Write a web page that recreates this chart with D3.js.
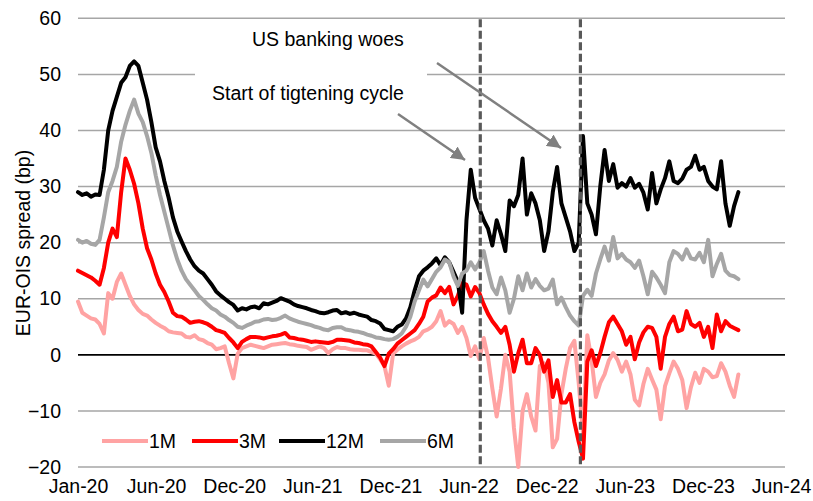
<!DOCTYPE html>
<html>
<head>
<meta charset="utf-8">
<script src="https://cdn.jsdelivr.net/npm/d3@7"></script>
<style>
  html, body { margin: 0; padding: 0; background: #fff; }
  svg { display: block; font-family: "Liberation Sans", Arial, sans-serif; }
</style>
</head>
<body>
<svg id="chart" width="813" height="501"></svg>
<script>
// ---- Data (one observation every 10 days starting 1 Jan 2020) ----
const startDate = "2020-01-01";
const stepDays = 10;

const s1M = [9.5,7.5,7,6.5,6.3,5.5,3.8,11,10,13,14.5,12.5,10.5,9,8,7.3,7,6.3,5.7,5.2,
4.8,4.2,4,3.9,3.8,3.2,3.1,3.5,2.8,2.6,2.1,1.8,1,1.2,1.5,-1.5,-4.2,0.2,1.2,1.5,
1.8,1.6,1.4,1.2,1.5,1.8,1.9,2,2.1,1.9,1.8,1.6,1.5,1.4,0.9,1.2,1.5,1.2,0.3,1,
1.4,1.2,1.2,1,0.9,0.9,0.8,0.8,0.5,0.2,-0.8,-2,-5.5,0.2,0.9,1.5,2,2.4,2.7,3.2,
4.2,4.5,5,6,7.8,5.2,6,5.5,3.9,5,3,-0.2,1.5,-0.8,3,-0.5,-6,-11,-6,0,
-3,-13,-20,-10,-7,-11,-13.5,-2,-1.5,-5,-16.5,-15,-7,-2.5,1.2,2.5,-5,-14,3.5,-1,
-7.5,-5,-3.5,-1,0.3,-0.9,-3,-1.2,-3.5,-8,-9,-5.2,-2.5,-4.4,-6.2,-11.5,-5.6,-3.3,-1.2,-2.5,
-4.5,-9.5,-5.8,-3.2,-5,-2.5,-3,-4,-3.8,-1.5,-3,-5.5,-7.5,-3.5];

const s3M = [15,14.6,14.2,13.8,13.2,12.5,15.5,20,22.5,21,29,35,33,30.5,27,22.5,19,17,14.5,12.5,
11.2,9.5,7.5,6.9,6.8,6.3,5.7,5.9,6,5.8,5.5,5,4.4,4.2,3.9,3,2.2,1.2,2.3,2.8,
3.2,3.2,3.1,2.9,3.1,3.3,3.4,3.6,3.9,3.1,3,2.8,2.7,2.5,2.3,2.4,2.3,2.2,2.1,2.3,
2.7,2.7,2.6,2.5,2.2,2.1,1.9,1.8,1.5,0.5,-0.5,-2,0.2,1,2,2.6,3.2,3.8,4.4,5.5,
6.8,9.5,10.2,10.6,12,11,12.1,9,10.5,12.8,12.5,10.4,12.1,11,9,7.3,6,5,3.9,5,
1.8,-3,0.3,2.7,-1.5,-1.5,1.2,0,-3,-1,-7.5,-4.5,-8.5,-8.5,-7,-12,-15.5,-18.5,-1.2,0.8,
-2,0.3,3.2,5.8,6.8,5.5,4.2,1.8,3.2,-0.8,2.2,4,5,4.8,3.2,-2.5,3.2,5.5,6.8,4.2,
4.5,7.8,5.5,5,5.7,3.2,5,1.2,7.2,4.2,6,5.2,4.8,4.4];

const s12M = [29,28.5,28.8,28.2,28.6,28.5,33,40,43.5,46,48.5,49.5,51.5,52.3,51.5,48.5,45.5,41.5,37,34.5,
31,28,24.5,22,20.2,18.5,17,15.8,15,14.5,13.5,12.5,11.3,10.6,10,9.4,8.9,7.9,8.3,8.1,
8.5,8.6,8.3,9.2,9,9.3,9.6,10.1,9.8,9.5,9,8.7,8.5,8.3,8,7.8,7.5,7.4,7.6,7.9,
8,7.4,7.6,7.3,7.5,7.2,7,6.8,6.2,6,5.6,4.6,4.4,4.2,5,5.4,6.5,8.5,11.5,14,
15,15.6,16.3,17.2,16,17.4,16.5,14.8,13,7.5,24,33,28,26,24,22.5,19.5,24,21.5,18.5,
27.5,26.5,28.5,35,25,28.8,27,24,18.5,22,29,33.5,27,24.5,22,18.5,20,39,27,25,
21.5,30,36.5,31,34,29.8,30.6,30,31.5,29.8,30.5,28.9,25.9,32.4,27,29.5,31.5,34.5,31,30.6,
31.4,33,33.5,35.5,33,33.5,31,30,29.5,34.5,27,23,26.5,29];

const s6M = [20.5,20,20.3,19.8,19.6,20.5,24.5,29,31,33.5,38,41,43.5,45.5,43,41.5,39,36,32,28.5,
25.5,22.5,19.5,17,15,13.5,12.5,11.5,10.5,9.8,9,8.3,7.9,7.2,6.8,6.2,5.7,5,4.8,5.2,
5.5,5.9,6,6.3,6.4,6.2,6.3,6.6,7,6.5,6.2,5.9,5.7,5.5,5.3,5,4.8,4.5,4.4,4.8,
4.9,4.9,4.5,4.4,4.2,4.1,3.9,3.6,3.4,3.1,3,2.8,2.7,2.8,3.2,3.8,5,6.8,9.5,11.5,
13.4,12.2,13.5,14.8,15.6,17,16.5,14,12.3,14.5,15,16.5,15.2,16.5,18.5,15,12,10.8,13.8,11.5,
7.5,10,14,11.5,14.5,12,13.5,12.3,11.5,11.8,13.4,9,10.2,8.5,7,6,5.2,10.5,11.6,10.5,
14.5,17,19.3,16.8,21,17.2,18,17,16.5,15.5,16.8,14,10.8,14.8,13.8,12.5,11,16.5,18.5,18,
17,18.8,17.2,17,18.2,16.5,20.5,14,16.2,18,15,14.2,14,13.5];

const seriesNames = ["1M", "3M", "12M", "6M"];
const seriesColors = ["#ffa3a3", "#ff0000", "#000000", "#a6a6a6"];

const yTicks = [-20, -10, 0, 10, 20, 30, 40, 50, 60];
const xTickDates = ["2020-01-01","2020-06-30","2020-12-28","2021-06-27","2021-12-25",
                    "2022-06-24","2022-12-22","2023-06-21","2023-12-19","2024-06-17"];
const xTickLabels = ["Jan-20","Jun-20","Dec-20","Jun-21","Dec-21","Jun-22","Dec-22","Jun-23","Dec-23","Jun-24"];

const eventDates = ["2022-07-21", "2023-03-10"];
const annotations = ["US banking woes", "Start of tigtening cycle"];

// ---- Drawing ----
const svg = d3.select("#chart");
const parse = d3.timeParse("%Y-%m-%d");
const t0 = parse(startDate);

const x = d3.scaleTime().domain([t0, parse("2024-06-26")]).range([78, 785]);
const y = d3.scaleLinear().domain([-20, 60]).range([467, 18.3]);

const FONT = 19.5;
const FF = '"Liberation Sans", Arial, sans-serif';

// grid lines
svg.append("g").selectAll("line").data(yTicks.filter(v => v !== 0)).join("line")
  .attr("x1", x.range()[0]).attr("x2", x.range()[1])
  .attr("y1", d => y(d)).attr("y2", d => y(d))
  .attr("stroke", "#a6a6a6").attr("stroke-width", 1.5);

// y axis labels
const yAxis = d3.axisLeft(y).tickValues(yTicks).tickSize(0).tickPadding(0).tickFormat(d3.format("d"));
const gy = svg.append("g").attr("transform", "translate(61,0)").call(yAxis);
gy.select(".domain").remove();
gy.selectAll("text").attr("font-size", FONT).attr("fill", "#000").attr("font-family", FF);

// x axis labels
const xAxis = d3.axisBottom(x).tickValues(xTickDates.map(parse)).tickSize(0).tickPadding(0)
  .tickFormat((d, i) => xTickLabels[i]);
const gx = svg.append("g").attr("transform", "translate(0,479)").call(xAxis);
gx.select(".domain").remove();
gx.selectAll("text").attr("font-size", FONT).attr("fill", "#000").attr("font-family", FF);

// annotation white box (hides gridline behind text)
svg.append("rect").attr("x", 195).attr("y", 21).attr("width", 232).attr("height", 60).attr("fill", "#fff");

// series
const allSeries = [s1M, s3M, s12M, s6M];
const line = d3.line()
  .x((d, i) => x(d3.timeDay.offset(t0, i * stepDays)))
  .y(d => y(d));

// zero line
svg.append("line").attr("x1", x.range()[0]).attr("x2", x.range()[1])
  .attr("y1", y(0)).attr("y2", y(0)).attr("stroke", "#000").attr("stroke-width", 1.8);

allSeries.forEach((s, k) => {
  svg.append("path").datum(s).attr("d", line)
    .attr("fill", "none").attr("stroke", seriesColors[k])
    .attr("stroke-width", 4).attr("stroke-linejoin", "round").attr("stroke-linecap", "round");
});

// event dashed lines
svg.append("g").selectAll("line").data(eventDates.map(parse)).join("line")
  .attr("x1", d => x(d)).attr("x2", d => x(d))
  .attr("y1", y(60) + 1).attr("y2", y(-20))
  .attr("stroke", "#595959").attr("stroke-width", 3.2).attr("stroke-dasharray", "8,3.5");

// arrows
const defs = svg.append("defs");
defs.append("marker").attr("id", "arr").attr("viewBox", "0 0 10 10")
  .attr("refX", 10).attr("refY", 5).attr("markerWidth", 5.5).attr("markerHeight", 5.5)
  .attr("markerUnits", "strokeWidth").attr("orient", "auto")
  .append("path").attr("d", "M0,0 L10,5 L0,10 z").attr("fill", "#808080");

svg.append("line").attr("x1", 437).attr("y1", 63).attr("x2", 561).attr("y2", 148)
  .attr("stroke", "#808080").attr("stroke-width", 2.5).attr("marker-end", "url(#arr)");
svg.append("line").attr("x1", 398).attr("y1", 114).attr("x2", 465).attr("y2", 160)
  .attr("stroke", "#808080").attr("stroke-width", 2.5).attr("marker-end", "url(#arr)");

// annotation texts
svg.append("text").attr("x", 252).attr("y", 46).attr("font-size", FONT).attr("fill", "#000").text(annotations[0]);
svg.append("text").attr("x", 212).attr("y", 100).attr("font-size", FONT).attr("fill", "#000").text(annotations[1]);

// y-axis title
svg.append("text").attr("transform", "translate(30,243) rotate(-90)")
  .attr("text-anchor", "middle").attr("font-size", FONT).attr("fill", "#000")
  .text("EUR-OIS spread (bp)");

// legend
const legendX = [102, 192, 279, 380];
const lg = svg.append("g");
seriesNames.forEach((n, k) => {
  lg.append("line").attr("x1", legendX[k]).attr("x2", legendX[k] + 46)
    .attr("y1", 441).attr("y2", 441).attr("stroke", seriesColors[k]).attr("stroke-width", 4);
  lg.append("text").attr("x", legendX[k] + 47).attr("y", 448).attr("font-size", FONT)
    .attr("fill", "#000").text(n);
});
</script>
</body>
</html>
